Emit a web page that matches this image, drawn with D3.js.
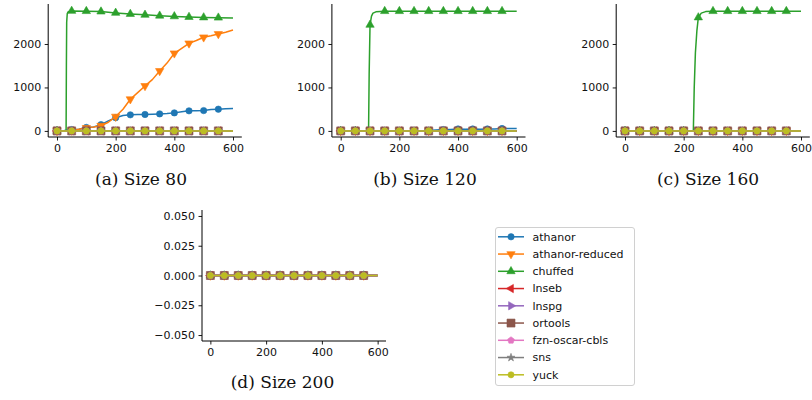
<!DOCTYPE html>
<html>
<head>
<meta charset="utf-8">
<script src="https://cdn.jsdelivr.net/npm/d3@7"></script>
<style>
  html, body { margin: 0; padding: 0; background: #fff; }
  svg { display: block; }
  .tick text { font-family: "DejaVu Sans", sans-serif; }
</style>
</head>
<body>
<svg id="chart" width="812" height="400"></svg>
<script>
// ---------------- data ----------------
const solverNames = ["athanor", "athanor-reduced", "chuffed", "lnseb", "lnspg",
                     "ortools", "fzn-oscar-cbls", "sns", "yuck"];
const captions = ["(a) Size 80", "(b) Size 120", "(c) Size 160", "(d) Size 200"];

const timeGrid = [0, 25, 50, 75, 100, 125, 150, 175, 200, 225, 250, 275, 300,
                  325, 350, 375, 400, 425, 450, 475, 500, 525, 550, 575, 600];
const markerTimes = [0, 50, 100, 150, 200, 250, 300, 350, 400, 450, 500, 550];
const zeroRun = [0, 0, 0, 0, 0, 0, 0, 0, 0, 0, 0, 0, 0,
                 0, 0, 0, 0, 0, 0, 0, 0, 0, 0, 0, 0];

// Size 80
const a_athanor = [0, 10, 30, 40, 80, 90, 145, 230, 305, 355, 370, 375, 378,
                   385, 392, 400, 415, 440, 462, 465, 468, 490, 500, 510, 513];
const a_athanorReduced = [0, 0, 10, 40, 70, 90, 120, 200, 330, 500, 730, 880, 1035,
                          1180, 1380, 1560, 1786, 1900, 2015, 2080, 2154, 2190, 2230, 2270, 2320];
const a_chuffedTime = [0, 25, 31, 32, 33, 35, 38, 42, 50, 100, 150, 200, 250, 300,
                       350, 400, 450, 500, 550, 600];
const a_chuffed = [0, 0, 0, 1500, 2500, 2700, 2740, 2745, 2760, 2755, 2745, 2715, 2690, 2670,
                   2650, 2635, 2620, 2610, 2605, 2600];

// Size 120
const b_athanor = [0, 0, 0, 0, 0, 0, 0, 0, 0, 0, 0, 5, 10,
                   20, 30, 35, 45, 40, 45, 40, 45, 45, 55, 55, 55];
const b_chuffedTime = [0, 50, 95, 97, 100, 105, 110, 120, 150, 200, 250, 300, 350,
                       400, 450, 500, 550, 600];
const b_chuffed = [0, 0, 0, 1300, 2440, 2640, 2710, 2740, 2755, 2755, 2755, 2755, 2755,
                   2755, 2755, 2755, 2755, 2755];

// Size 160
const c_chuffedTime = [0, 50, 100, 150, 200, 233, 236, 240, 245, 250, 260, 275, 300,
                       350, 400, 450, 500, 550, 600];
const c_chuffed = [0, 0, 0, 0, 0, 0, 1000, 1800, 2300, 2610, 2710, 2745, 2755,
                   2755, 2755, 2755, 2755, 2755, 2755];

const xTickValues = [0, 200, 400, 600];
const yTicksRuntime = [0, 1000, 2000];
const yTicksFlat = [0.05, 0.025, 0, -0.025, -0.05];
const yDomainRuntime = [-140, 2920];
const yDomainFlat = [-0.055, 0.055];

// ---------------- styles ----------------
const colors = ["#1f77b4", "#ff7f0e", "#2ca02c", "#d62728", "#9467bd",
                "#8c564b", "#e377c2", "#7f7f7f", "#bcbd22"];

const pentagon = {
  draw(ctx, size) {
    const r = Math.sqrt(size / 2.378);
    for (let i = 0; i < 5; i++) {
      const a = -Math.PI / 2 + i * 2 * Math.PI / 5;
      const x = r * Math.cos(a), y = r * Math.sin(a);
      if (i === 0) ctx.moveTo(x, y); else ctx.lineTo(x, y);
    }
    ctx.closePath();
  }
};
const markerStyles = [
  { type: d3.symbolCircle, size: 32, rot: 0 },
  { type: d3.symbolTriangle, size: 30, rot: 180 },
  { type: d3.symbolTriangle, size: 30, rot: 0 },
  { type: d3.symbolTriangle, size: 30, rot: -90 },
  { type: d3.symbolTriangle, size: 30, rot: 90 },
  { type: d3.symbolSquare, size: 64, rot: 0 },
  { type: pentagon, size: 30, rot: 0 },
  { type: d3.symbolStar, size: 20, rot: 0 },
  { type: d3.symbolCircle, size: 30, rot: 0 },
];

function seriesPoints(xs, ys) { return xs.map((x, i) => ({ x: x, y: ys[i] })); }

const panelSeries = [
  [seriesPoints(timeGrid, a_athanor), seriesPoints(timeGrid, a_athanorReduced),
   seriesPoints(a_chuffedTime, a_chuffed)],
  [seriesPoints(timeGrid, b_athanor), seriesPoints(timeGrid, zeroRun),
   seriesPoints(b_chuffedTime, b_chuffed)],
  [seriesPoints(timeGrid, zeroRun), seriesPoints(timeGrid, zeroRun),
   seriesPoints(c_chuffedTime, c_chuffed)],
  [seriesPoints(timeGrid, zeroRun), seriesPoints(timeGrid, zeroRun),
   seriesPoints(timeGrid, zeroRun)],
].map(first => {
  const all = first.slice();
  for (let i = 3; i < solverNames.length; i++) all.push(seriesPoints(timeGrid, zeroRun));
  return all;
});

const layouts = [
  { left: 48.2, right: 241.8, top: 4, bottom: 137, yDomain: yDomainRuntime, yTicks: yTicksRuntime,
    fmt: d3.format("d"), capX: 141, capY: 184.5 },
  { left: 331.9, right: 525.5, top: 4, bottom: 137, yDomain: yDomainRuntime, yTicks: yTicksRuntime,
    fmt: d3.format("d"), capX: 425, capY: 184.5 },
  { left: 616.2, right: 809.8, top: 4, bottom: 137, yDomain: yDomainRuntime, yTicks: yTicksRuntime,
    fmt: d3.format("d"), capX: 708, capY: 184.5 },
  { left: 202, right: 386, top: 210, bottom: 341, yDomain: yDomainFlat, yTicks: yTicksFlat,
    fmt: d => d3.format(".3f")(d).replace("-", "\u2212"), capX: 282.5, capY: 388 },
];

const svg = d3.select("#chart");

function drawMarker(sel, style, color) {
  sel.attr("d", d3.symbol().type(style.type).size(style.size))
     .attr("fill", color).attr("stroke", color).attr("stroke-width", 0.6);
}

layouts.forEach((L, pi) => {
  const x = d3.scaleLinear().domain([-30, 630]).range([L.left, L.right]);
  const y = d3.scaleLinear().domain(L.yDomain).range([L.bottom, L.top]);
  const g = svg.append("g");

  const plot = g.append("g");
  panelSeries[pi].forEach((pts, si) => {
    const line = d3.line().x(d => x(d.x)).y(d => y(d.y));
    plot.append("path").datum(pts)
      .attr("d", line).attr("fill", "none")
      .attr("stroke", colors[si]).attr("stroke-width", 1.5)
      .attr("stroke-linejoin", "round");
    const mpts = pts.filter(d => markerTimes.includes(d.x));
    plot.selectAll(null).data(mpts).enter().append("path")
      .attr("transform", d => `translate(${x(d.x)},${y(d.y)}) rotate(${markerStyles[si].rot})`)
      .call(drawMarker, markerStyles[si], colors[si]);
  });

  const xAxis = d3.axisBottom(x).tickValues(xTickValues).tickSize(3.5).tickPadding(3.5);
  const yAxis = d3.axisLeft(y).tickValues(L.yTicks).tickSize(3.5).tickPadding(3.5).tickFormat(L.fmt);

  const gx = g.append("g").attr("transform", `translate(0,${L.bottom})`).call(xAxis);
  const gy = g.append("g").attr("transform", `translate(${L.left},0)`).call(yAxis);
  [gx, gy].forEach(a => {
    a.select(".domain").remove();
    a.selectAll(".tick line").attr("stroke", "#000").attr("stroke-width", 0.9);
    a.selectAll(".tick text").attr("font-size", 11).attr("fill", "#111")
      .attr("font-family", "DejaVu Sans, sans-serif");
  });
  g.append("line").attr("x1", L.left).attr("x2", L.right).attr("y1", L.bottom).attr("y2", L.bottom)
    .attr("stroke", "#000").attr("stroke-width", 1);
  g.append("line").attr("x1", L.left).attr("x2", L.left).attr("y1", L.top).attr("y2", L.bottom)
    .attr("stroke", "#000").attr("stroke-width", 1);

  svg.append("text").attr("x", L.capX).attr("y", L.capY)
    .attr("text-anchor", "middle")
    .attr("font-family", "DejaVu Serif, serif").attr("font-size", 17)
    .attr("fill", "#111")
    .text(captions[pi]);
});

// ---------------- legend ----------------
const legend = svg.append("g");
legend.append("rect").attr("x", 495.5).attr("y", 227.5).attr("width", 139).attr("height", 158)
  .attr("rx", 2.5).attr("fill", "#fff").attr("stroke", "#d0d0d0").attr("stroke-width", 1);
solverNames.forEach((name, i) => {
  const cy = 236.8 + i * 17.25;
  legend.append("line").attr("x1", 498).attr("x2", 524).attr("y1", cy).attr("y2", cy)
    .attr("stroke", colors[i]).attr("stroke-width", 1.5);
  legend.append("path").attr("transform", `translate(511,${cy}) rotate(${markerStyles[i].rot})`)
    .call(drawMarker, markerStyles[i], colors[i]);
  legend.append("text").attr("x", 532.5).attr("y", cy).attr("dy", "0.35em")
    .attr("font-family", "DejaVu Sans, sans-serif").attr("font-size", 11).attr("fill", "#111")
    .text(name);
});
</script>
</body>
</html>
